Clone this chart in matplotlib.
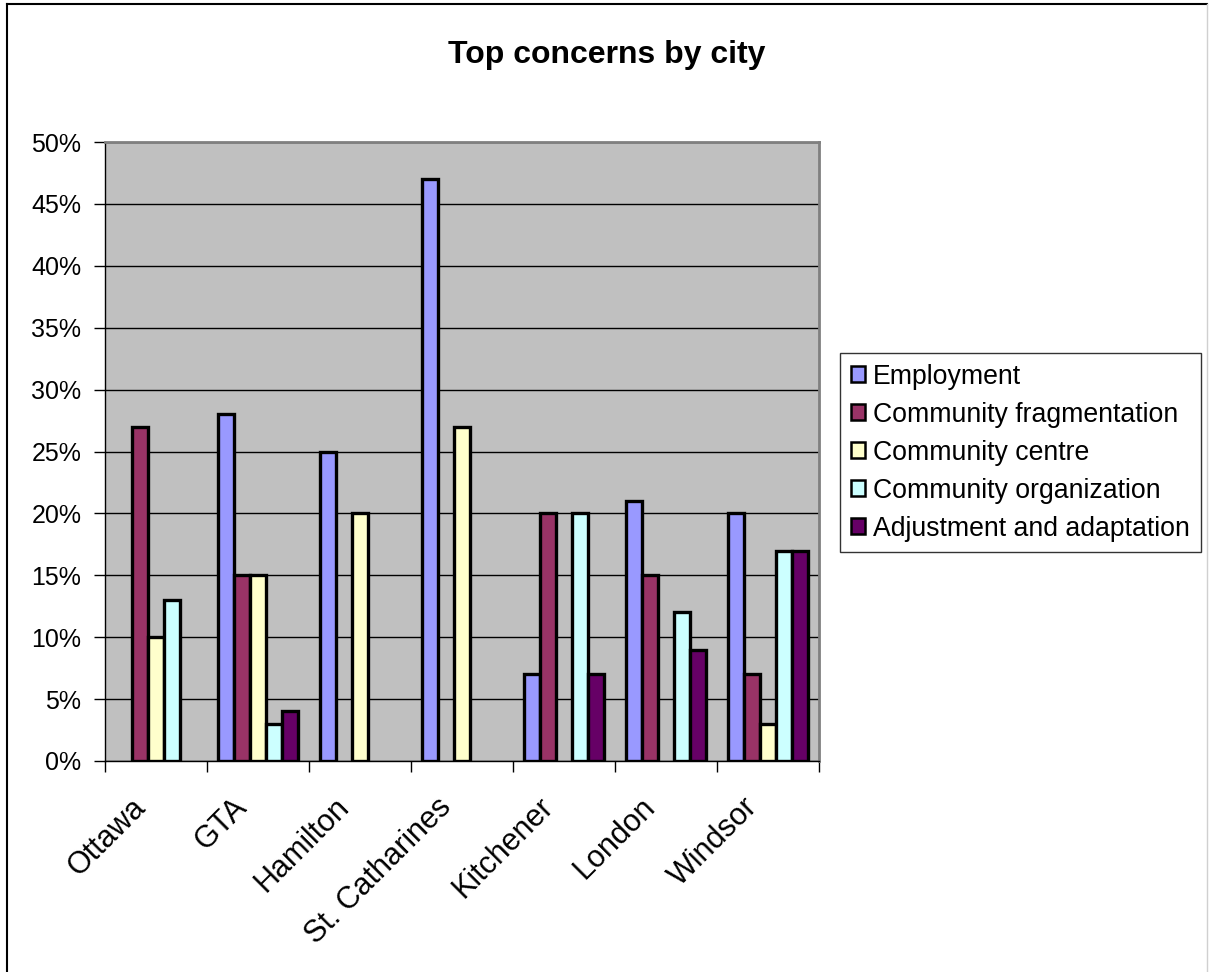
import numpy as np
import matplotlib
matplotlib.use('agg')
import matplotlib.pyplot as plt
from matplotlib.lines import Line2D
from matplotlib.ticker import PercentFormatter
from matplotlib.transforms import ScaledTranslation

plt.rcParams['font.family'] = ['Liberation Sans', 'DejaVu Sans']

cities = ['Ottawa', 'GTA', 'Hamilton', 'St. Catharines', 'Kitchener', 'London', 'Windsor']
series_names = ['Employment', 'Community fragmentation', 'Community centre',
                'Community organization', 'Adjustment and adaptation']
employment = [0, 28, 25, 47, 7, 21, 20]
fragmentation = [27, 15, 0, 0, 20, 15, 7]
centre = [10, 15, 20, 27, 0, 0, 3]
organization = [13, 3, 0, 0, 20, 12, 17]
adjustment = [0, 4, 0, 0, 7, 9, 17]
colors = ['#9999FF', '#993366', '#FFFFCC', '#CCFFFF', '#660066']

fig = plt.figure(figsize=(12.09, 9.72), dpi=100)
ax = fig.add_axes([105 / 1209, 1 - 761 / 972, 714 / 1209, 619 / 972])
ax.set_facecolor('#C0C0C0')

bar_w = 0.157
x = np.arange(len(cities))
for k, (vals, name) in enumerate(zip([employment, fragmentation, centre, organization, adjustment],
                                     series_names)):
    v = np.array(vals, dtype=float)
    pos = x + (k - 2) * bar_w
    mask = v > 0
    ax.bar(pos[mask], v[mask], bar_w, color=colors[k], edgecolor='black', linewidth=2.4,
           zorder=3)
    ax.bar([0], [0], 0, color=colors[k], edgecolor='black', linewidth=1.8, label=name)

ax.set_xlim(-0.5, len(cities) - 0.5)
ax.set_ylim(0, 50)
ax.set_yticks(np.arange(0, 51, 5))
ax.yaxis.set_major_formatter(PercentFormatter(decimals=0))
ax.grid(axis='y', color='black', linewidth=1, zorder=1)
ax.set_xticks(np.arange(-0.5, len(cities), 1.0))
ax.set_xticklabels([])
ax.set_xticks(x, minor=True)
ax.set_xticklabels(cities, minor=True, rotation=45, ha='right', va='center',
                   rotation_mode='anchor', fontsize=22)
ax.tick_params(axis='x', which='minor', length=0, pad=30)
ax.tick_params(axis='x', which='major', length=8, width=1, direction='out')
ax.tick_params(axis='y', length=8, width=1, labelsize=18, pad=9)
shift = ScaledTranslation(-15 / 100, 0, fig.dpi_scale_trans)
for lbl in ax.get_xticklabels(minor=True):
    lbl.set_transform(lbl.get_transform() + shift)

for side in ['top', 'right']:
    ax.spines[side].set_color('#808080')
    ax.spines[side].set_linewidth(2)
for side in ['left', 'bottom']:
    ax.spines[side].set_color('black')
    ax.spines[side].set_linewidth(1)

fig.text(607 / 1209, 1 - 55 / 972, 'Top concerns by city',
         ha='center', va='center', fontsize=23, fontweight='bold')

leg = fig.legend(loc='upper left', bbox_to_anchor=(840 / 1209, 1 - 353 / 972),
                 fontsize=19.2, frameon=True, fancybox=False, handlelength=0.55,
                 handleheight=0.55, handletextpad=0.3, borderpad=0.4, labelspacing=0.45,
                 borderaxespad=0)
leg.get_frame().set_edgecolor('black')
leg.get_frame().set_linewidth(1)

fig.add_artist(Line2D([7 / 1209, 7 / 1209], [0, 1 - 4 / 972], color='black', linewidth=1.5))
fig.add_artist(Line2D([7 / 1209, 1207 / 1209], [1 - 4 / 972, 1 - 4 / 972], color='black',
                      linewidth=1.5))
fig.add_artist(Line2D([1207 / 1209, 1207 / 1209], [0, 1 - 4 / 972], color='#D0D0D0',
                      linewidth=1))

fig.savefig('out.png', dpi=100)
